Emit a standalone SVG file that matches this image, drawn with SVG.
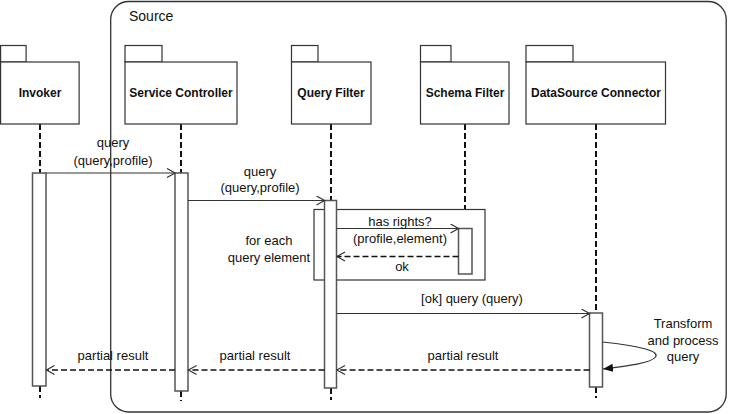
<svg xmlns="http://www.w3.org/2000/svg" width="730" height="414" viewBox="0 0 730 414">
<defs>
<style>
.frame{fill:none;stroke:#333;stroke-width:1.3}
.box{fill:#fff;stroke:#333;stroke-width:1.2}
.act{fill:#fff;stroke:#555;stroke-width:1.5}
.life{stroke:#111;stroke-width:2;stroke-dasharray:6,3;fill:none}
.msg{stroke:#333;stroke-width:1.2;fill:none}
.ret{stroke:#111;stroke-width:1.5;stroke-dasharray:6,3;fill:none}
.name{font-family:"Liberation Sans",Arial,sans-serif;font-size:12px;font-weight:bold;fill:#111;text-anchor:middle}
.lbl{font-family:"Liberation Sans",Arial,sans-serif;font-size:13px;fill:#111;text-anchor:middle}
</style>
<marker id="open" markerUnits="userSpaceOnUse" markerWidth="12" markerHeight="12" refX="9" refY="5" orient="auto">
<path d="M1,0.5 L9,5 L1,9.5" fill="none" stroke="#333" stroke-width="1.2"/>
</marker>
<marker id="filled" markerUnits="userSpaceOnUse" markerWidth="12" markerHeight="12" refX="10" refY="4" orient="auto">
<path d="M0,0 L10,4 L0,8 Z" fill="#111"/>
</marker>
</defs>

<g id="source-frame">
<rect class="frame" x="110.7" y="1.5" width="615.5" height="410.5" rx="18" ry="18"/>
<text x="129" y="21" font-family="'Liberation Sans',Arial,sans-serif" font-size="14" fill="#111">Source</text>
</g>

<g id="lifelines">
<line class="life" x1="40" y1="124" x2="40" y2="173"/>
<line class="life" x1="40" y1="386" x2="40" y2="398"/>
<line class="life" x1="181" y1="124" x2="181" y2="173"/>
<line class="life" x1="181" y1="391" x2="181" y2="401"/>
<line class="life" x1="331" y1="124" x2="331" y2="201"/>
<line class="life" x1="331" y1="388" x2="331" y2="400"/>
<line class="life" x1="465" y1="124" x2="465" y2="228"/>
<line class="life" x1="465" y1="274" x2="465" y2="281"/>
<line class="life" x1="596" y1="124" x2="596" y2="313"/>
<line class="life" x1="596" y1="387" x2="596" y2="398"/>
</g>

<g id="invoker">
<rect class="box" x="0.6" y="45.5" width="25.5" height="16.5"/>
<rect class="box" x="0.6" y="62" width="78.5" height="62"/>
<text class="name" x="40" y="97">Invoker</text>
</g>
<g id="service-controller">
<rect class="box" x="125" y="45.5" width="37" height="16.5"/>
<rect class="box" x="125" y="62" width="112" height="62"/>
<text class="name" x="181" y="97">Service Controller</text>
</g>
<g id="query-filter">
<rect class="box" x="291.5" y="45.5" width="26.5" height="16.5"/>
<rect class="box" x="291.5" y="62" width="79.5" height="62"/>
<text class="name" x="331" y="97">Query Filter</text>
</g>
<g id="schema-filter">
<rect class="box" x="420.5" y="45.5" width="30.5" height="16.5"/>
<rect class="box" x="420.5" y="62" width="88.5" height="62"/>
<text class="name" x="465" y="97">Schema Filter</text>
</g>
<g id="datasource-connector">
<rect class="box" x="526" y="45.5" width="47" height="16.5"/>
<rect class="box" x="526" y="62" width="139.5" height="62"/>
<text class="name" x="596" y="97">DataSource Connector</text>
</g>

<g id="loop-fragment">
<rect class="box" x="314" y="209.5" width="171" height="70.5"/>
<text class="lbl" x="269" y="245">for each</text>
<text class="lbl" x="269" y="262">query element</text>
</g>

<g id="activations">
<rect class="act" x="32.5" y="173" width="13.5" height="213"/>
<rect class="act" x="175" y="173" width="13" height="218"/>
<rect class="act" x="324.5" y="200.5" width="12" height="187.5"/>
<rect class="act" x="458.5" y="228.5" width="13.5" height="45.5"/>
<rect class="act" x="589.5" y="313" width="13" height="74"/>
</g>

<g id="connectors">
<line class="msg" x1="46" y1="173" x2="175" y2="173" marker-end="url(#open)"/>
<line class="msg" x1="188" y1="200.5" x2="324.5" y2="200.5" marker-end="url(#open)"/>
<line class="msg" x1="336.5" y1="228.5" x2="458.5" y2="228.5" marker-end="url(#open)"/>
<line class="ret" x1="458.5" y1="256.5" x2="337" y2="256.5" marker-end="url(#open)"/>
<line class="msg" x1="336.5" y1="313.5" x2="589.5" y2="313.5" marker-end="url(#open)"/>
<path class="msg" d="M602.5,342 C640,346 660,351 655.5,357 C651,363 628,366 603,369" marker-end="url(#filled)"/>
<line class="ret" x1="589.5" y1="370" x2="337" y2="370" marker-end="url(#open)"/>
<line class="ret" x1="324.5" y1="370" x2="188.5" y2="370" marker-end="url(#open)"/>
<line class="ret" x1="175" y1="370" x2="46.5" y2="370" marker-end="url(#open)"/>
</g>

<g id="labels">
<text class="lbl" x="113" y="147">query</text>
<text class="lbl" x="113" y="165">(query,profile)</text>
<text class="lbl" x="260" y="176">query</text>
<text class="lbl" x="260" y="192">(query,profile)</text>
<text class="lbl" x="400" y="226">has rights?</text>
<text class="lbl" x="400" y="243">(profile,element)</text>
<text class="lbl" x="402" y="271">ok</text>
<text class="lbl" x="472" y="303">[ok] query (query)</text>
<text class="lbl" x="683" y="328">Transform</text>
<text class="lbl" x="683" y="345">and process</text>
<text class="lbl" x="683" y="361">query</text>
<text class="lbl" x="463" y="360">partial result</text>
<text class="lbl" x="255" y="360">partial result</text>
<text class="lbl" x="113" y="360">partial result</text>
</g>
</svg>
